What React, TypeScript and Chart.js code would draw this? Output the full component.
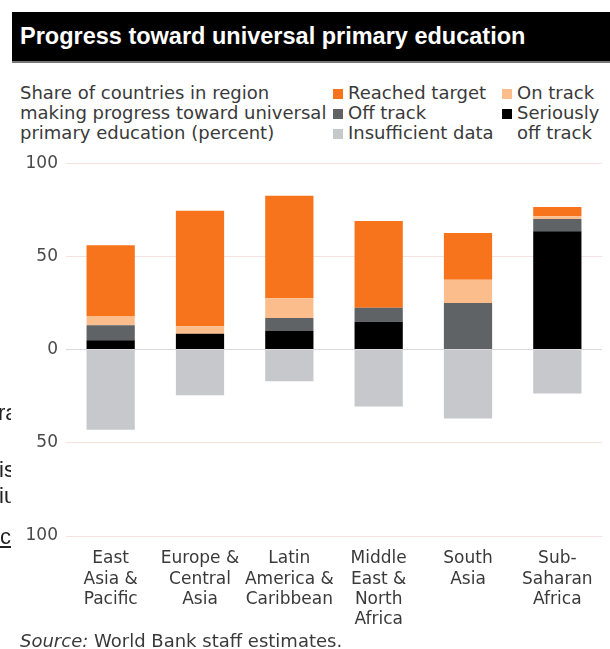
import React, { useEffect, useRef } from "react";
import { Chart, registerables } from "chart.js";

Chart.register(...registerables);

const categories: string[][] = [
  ["East", "Asia &", "Pacific"],
  ["Europe &", "Central", "Asia"],
  ["Latin", "America &", "Caribbean"],
  ["Middle", "East &", "North", "Africa"],
  ["South", "Asia"],
  ["Sub-", "Saharan", "Africa"],
];
const seriouslyOffTrack = [5, 8.5, 10, 15, 0, 63.5];
const offTrack = [8, 0, 7, 7.5, 25, 6.5];
const onTrack = [5, 4, 10.5, 0, 12.5, 1.5];
const reachedTarget = [38, 62, 55, 46.5, 25, 5];
const insufficientData = [-43, -24.5, -17, -30.5, -37, -23.5];
const yTicks = [-100, -50, 0, 50, 100];

const COLORS = {
  reached: "#f7731c",
  onTrack: "#fbbd8c",
  offTrack: "#5f6366",
  serious: "#000000",
  insufficient: "#c6c8cb",
};

const FONT = "'DejaVu Sans', 'Liberation Sans', sans-serif";
const TITLE_FONT = "'Liberation Sans', Arial, sans-serif";

function ChartBox() {
  const ref = useRef<HTMLCanvasElement | null>(null);
  useEffect(() => {
    if (!ref.current) return;
    const mk = (label: string, data: number[], color: string) => ({
      label,
      data,
      backgroundColor: color,
      borderWidth: 0,
      barPercentage: 0.54,
      categoryPercentage: 1,
      stack: "s",
    });
    const chart = new Chart(ref.current, {
      type: "bar",
      data: {
        labels: categories,
        datasets: [
          mk("Seriously off track", seriouslyOffTrack, COLORS.serious),
          mk("Off track", offTrack, COLORS.offTrack),
          mk("On track", onTrack, COLORS.onTrack),
          mk("Reached target", reachedTarget, COLORS.reached),
          mk("Insufficient data", insufficientData, COLORS.insufficient),
        ],
      },
      options: {
        animation: false,
        responsive: false,
        maintainAspectRatio: false,
        layout: { padding: { top: 0, right: 8, left: 0, bottom: 0 } },
        plugins: { legend: { display: false }, tooltip: { enabled: false }, title: { display: false } },
        scales: {
          x: {
            stacked: true,
            grid: { display: false },
            border: { display: false },
            afterFit: (scale: any) => {
              scale.height = 108;
            },
            ticks: {
              color: "#3a3a3a",
              font: { family: FONT, size: 17, lineHeight: 1.18 },
              maxRotation: 0,
              autoSkip: false,
              padding: 5,
            },
          },
          y: {
            stacked: true,
            min: -100,
            max: 100,
            afterBuildTicks: (scale: any) => {
              scale.ticks = yTicks.map((v) => ({ value: v }));
            },
            afterFit: (scale: any) => {
              scale.width = 66;
            },
            border: { display: false },
            grid: {
              color: (ctx: any) => (ctx.tick && ctx.tick.value === 0 ? "#d9d9d9" : "#f6e3de"),
              lineWidth: 1,
              drawTicks: false,
            },
            ticks: {
              color: "#4a4a4a",
              font: { family: FONT, size: 17 },
              padding: 8,
              callback: (v: any) => String(Math.abs(Number(v))),
            },
          },
        },
      },
    });
    return () => chart.destroy();
  }, []);
  return <canvas ref={ref} width={610} height={499} style={{ display: "block" }} />;
}

function Sq({ c }: { c: string }) {
  return (
    <span
      style={{
        display: "inline-block",
        width: 10,
        height: 10,
        background: c,
        marginRight: 5,
        verticalAlign: "0px",
      }}
    />
  );
}

export default function App() {
  const textStyle: React.CSSProperties = {
    fontFamily: FONT,
    fontSize: 18,
    color: "#3a3a3a",
    lineHeight: "20px",
    position: "absolute",
    whiteSpace: "nowrap",
  };
  const frag: React.CSSProperties = {
    position: "absolute",
    whiteSpace: "nowrap",
    fontFamily: "'Liberation Sans', Arial, sans-serif",
    fontSize: 22,
    color: "#222",
    lineHeight: "24px",
  };
  return (
    <div
      style={{
        position: "absolute",
        left: 0,
        top: 0,
        width: 610,
        height: 649,
        background: "#fff",
        overflow: "hidden",
      }}
    >
      <div
        style={{
          position: "absolute",
          left: 12,
          top: 12,
          width: 598,
          height: 49,
          background: "#000",
          borderBottom: "2px solid #777",
        }}
      >
        <div
          style={{
            position: "absolute",
            left: 8,
            top: 11,
            fontFamily: TITLE_FONT,
            fontWeight: "bold",
            fontSize: 23.5,
            color: "#fff",
            whiteSpace: "nowrap",
          }}
        >
          Progress toward universal primary education
        </div>
      </div>
      <div style={{ ...textStyle, left: 20, top: 83 }}>
        Share of countries in region
        <br />
        making progress toward universal
        <br />
        primary education (percent)
      </div>
      <div style={{ ...textStyle, left: 333, top: 83 }}>
        <Sq c={COLORS.reached} />
        Reached target
        <br />
        <Sq c={COLORS.offTrack} />
        Off track
        <br />
        <Sq c={COLORS.insufficient} />
        Insufficient data
      </div>
      <div style={{ ...textStyle, left: 502, top: 83 }}>
        <Sq c={COLORS.onTrack} />
        On track
        <br />
        <Sq c={COLORS.serious} />
        Seriously
        <br />
        <span style={{ display: "inline-block", width: 15 }} />
        off track
      </div>
      <div style={{ position: "absolute", left: 0, top: 145 }}>
        <ChartBox />
      </div>
      <div style={{ ...textStyle, left: 20, top: 631 }}>
        <i>Source:</i> World Bank staff estimates.
      </div>
      <div
        style={{
          position: "absolute",
          left: 0,
          top: 0,
          width: 11,
          height: 649,
          overflow: "hidden",
        }}
      >
        <div style={{ ...frag, left: -2, top: 401 }}>ra</div>
        <div style={{ ...frag, left: -1, top: 458 }}>is</div>
        <div style={{ ...frag, left: -1, top: 484 }}>iu</div>
        <div style={{ ...frag, left: 0, top: 525, textDecoration: "underline" }}>c</div>
      </div>
    </div>
  );
}
